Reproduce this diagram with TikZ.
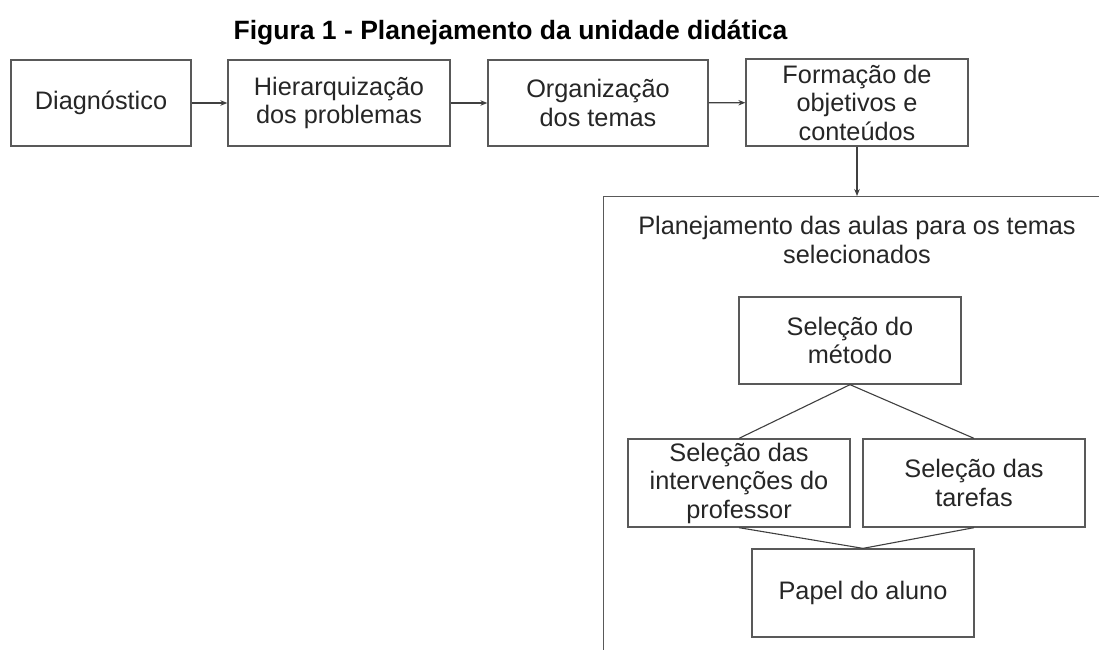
\documentclass[tikz,border=0pt]{standalone}
\usepackage{fontspec}
\setmainfont{Liberation Sans}
\usetikzlibrary{arrows.meta}
\begin{document}
\begin{tikzpicture}[x=1pt,y=-1pt,
  box/.style={draw=black!65, line width=1.3pt, align=center, inner sep=0pt,
    font=\fontsize{25.3}{28.5}\selectfont, text=black!85},
  link/.style={draw=black!75, line width=1.1pt},
  arr/.style={link, -{Stealth[length=7pt,width=5.5pt]}}]
\useasboundingbox (0,0) rectangle (1099,649);
\fill[white] (0,0) rectangle (1099,649);
\node[font=\bfseries\fontsize{26.5}{30}\selectfont, anchor=base] (title) at (510.5,39) {Figura 1 - Planejamento da unidade didática};
\node[box, minimum width=180pt, minimum height=86pt] (d) at (101,103) {Diagnóstico};
\node[box, minimum width=222pt, minimum height=86pt] (h) at (339,103) {Hierarquização\\dos problemas};
\node[box, minimum width=220pt, minimum height=86pt] (o) at (598,103) {Organização\\dos temas};
\node[box, minimum width=222pt, minimum height=87pt] (f) at (857,102.5) {Formação de\\objetivos e\\conteúdos};
\node[box, minimum width=530pt, minimum height=480pt, anchor=north west] (cont) at (603,196) {};
\node[align=center, font=\fontsize{25.3}{28.5}\selectfont, text=black!85] (ctitle) at (857,240) {Planejamento das aulas para os temas\\selecionados};
\node[box, minimum width=222pt, minimum height=87pt] (m) at (850,340.5) {Seleção do\\método};
\node[box, minimum width=222pt, minimum height=88pt] (l) at (739,483) {Seleção das\\intervenções do\\professor};
\node[box, minimum width=222pt, minimum height=88pt] (r) at (974,483) {Seleção das\\tarefas};
\node[box, minimum width=222pt, minimum height=88pt] (p) at (863,593) {Papel do aluno};
\draw[arr] (d) -- (h);
\draw[arr] (h) -- (o);
\draw[arr] (o) -- (f);
\draw[arr] (f.south) -- (f.south |- cont.north);
\draw[link] (m.south) -- (l.north);
\draw[link] (m.south) -- (r.north);
\draw[link] (l.south) -- (p.north);
\draw[link] (r.south) -- (p.north);
\end{tikzpicture}
\end{document}
